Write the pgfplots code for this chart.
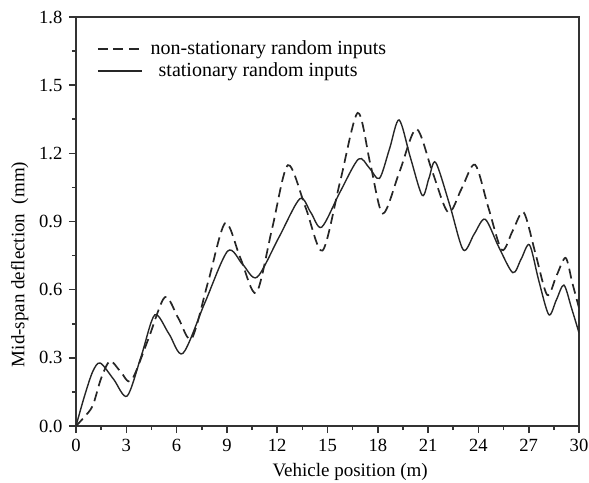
\documentclass[border=0pt]{standalone}
\usepackage{fontspec}
\setmainfont{Liberation Serif}
\usepackage{pgfplots}
\pgfplotsset{compat=1.18}
\begin{document}
\fontsize{9.3}{11}\selectfont
\begin{tikzpicture}
\useasboundingbox (-38pt,-28pt) rectangle (256.5pt,213pt);
\begin{axis}[
  scale only axis, width=251.5pt, height=204.5pt,
  at={(0pt,0pt)}, anchor=south west,
  xmin=0, xmax=30, ymin=0, ymax=1.8,
  xtick={0,3,6,9,12,15,18,21,24,27,30},
  ytick={0,0.3,0.6,0.9,1.2,1.5,1.8},
  minor x tick num=1, minor y tick num=1,
  tick align=outside, xtick pos=bottom, ytick pos=left,
  major tick length=3.5pt, minor tick length=2pt,
  axis line style={line width=0.9pt, black!80},
  every tick/.style={line width=0.8pt, black!80},
  /pgf/number format/assume math mode=true,
  yticklabel style={/pgf/number format/.cd, fixed, fixed zerofill, precision=1},
  tick label style={font=\fontsize{9.3}{11}\selectfont},
  label style={font=\fontsize{9.5}{11}\selectfont},
  xlabel={Vehicle position (m)},
  ylabel={Mid-span deflection~~(mm)},
  xlabel style={at={(ticklabel cs:0.545)}, yshift=1pt},
  ylabel style={at={(ticklabel cs:0.395)}, yshift=-1pt},
  legend style={at={(0.029,0.962)}, anchor=north west, draw=none, fill=none,
    font=\fontsize{10}{12}\selectfont, row sep=-1.5pt},
  legend cell align=left,
  legend image code/.code={\draw[#1] (0pt,0pt) -- (22pt,0pt);},
  clip=true,
]
\addplot[smooth, line width=0.85pt, black!85, dash pattern=on 5pt off 2.8pt] coordinates {
(0,0) (0.5,0.04) (1.0,0.09) (1.5,0.21) (2.03,0.286) (2.65,0.24) (3.3,0.2)
(4.3,0.38) (5.3,0.567) (6.1,0.475) (6.9,0.385) (7.9,0.64) (8.9,0.893)
(9.8,0.74) (10.75,0.586) (11.7,0.87) (12.64,1.148) (13.7,0.96) (14.7,0.772)
(15.75,1.075) (16.8,1.378) (17.55,1.155) (18.3,0.935) (19.3,1.12) (20.3,1.307)
(21.25,1.12) (22.2,0.94) (23.0,1.045) (23.8,1.15) (24.6,0.96) (25.4,0.775)
(26.05,0.86) (26.7,0.94) (27.4,0.76) (28.1,0.577) (28.65,0.66) (29.2,0.74)
(29.6,0.63) (30,0.52)
};
\addlegendentry{\hspace{2pt}non-stationary random inputs}
\addplot[smooth, line width=0.7pt, black!85] coordinates {
(0,0) (0.5,0.13) (1.0,0.24) (1.45,0.277) (2.25,0.205) (3.05,0.132)
(3.9,0.31) (4.7,0.489) (5.55,0.405) (6.38,0.32) (7.7,0.545) (9.05,0.77)
(9.95,0.71) (10.8,0.655) (12.1,0.83) (13.35,1.0) (14.0,0.94) (14.65,0.875)
(15.75,1.03) (16.85,1.175) (17.5,1.135) (18.1,1.09) (18.7,1.22) (19.27,1.347)
(19.95,1.18) (20.65,1.015) (21.05,1.09) (21.45,1.16) (22.3,0.97) (23.1,0.775)
(23.75,0.845) (24.4,0.91) (25.2,0.79) (26.05,0.675) (26.55,0.735) (27.05,0.797)
(27.6,0.64) (28.2,0.49) (28.65,0.555) (29.1,0.62) (29.55,0.52) (30,0.41)
};
\addlegendentry{\hspace{6pt}stationary random inputs}
\end{axis}
\end{tikzpicture}
\end{document}
